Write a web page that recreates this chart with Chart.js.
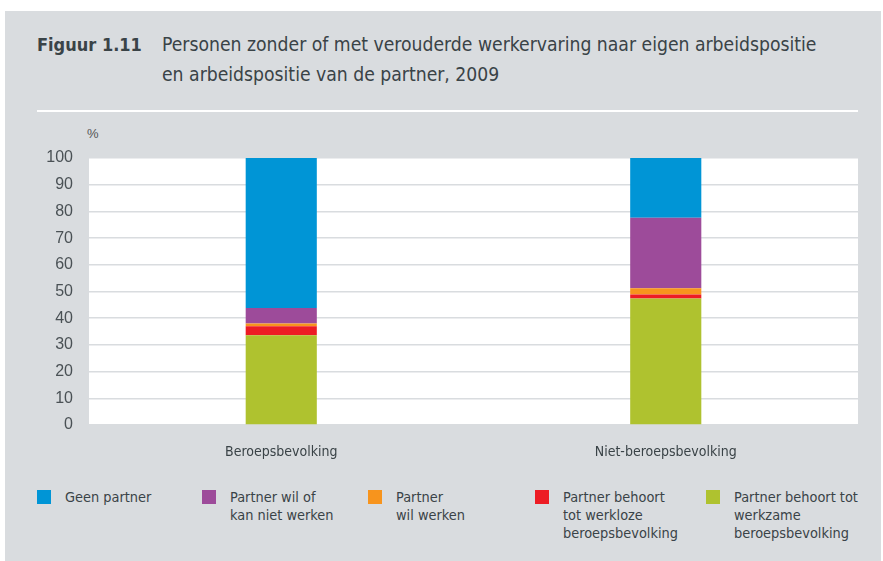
<!DOCTYPE html>
<html>
<head>
<meta charset="utf-8">
<script src="https://cdn.jsdelivr.net/npm/chart.js@4.4.0/dist/chart.umd.min.js"></script>
<style>
  body { margin: 0; background: #fff; }
  #panel { position: absolute; left: 5px; top: 11px; width: 876px; height: 550px; background: #d9dcdf; }
  #wrap { position: absolute; left: 0; top: 0; width: 883px; height: 561px; }
  #title { position: absolute; left: 37px; top: 30px; font-family: "DejaVu Sans Condensed", sans-serif; font-size: 19.2px; color: #3a4347; line-height: 30px; }
  #title b { position: absolute; left: 0; top: 0; white-space: nowrap; font-size: 18px; }
  #title span { position: absolute; left: 125px; top: 0; white-space: nowrap; }
  #rule { position: absolute; left: 37px; top: 110px; width: 821px; height: 2px; background: #fff; }
  #unit { position: absolute; left: 87px; top: 126px; font-family: "Liberation Sans", sans-serif; font-size: 13px; color: #555; }
  #chart { position: absolute; left: 0; top: 0; }
  .lg { position: absolute; top: 490px; font-family: "DejaVu Sans Condensed", sans-serif; font-size: 14.4px; line-height: 18px; color: #3a4347; }
  .lg i { position: absolute; left: 0; top: 0; width: 14px; height: 14px; }
  .lg div { position: absolute; left: 28px; top: -2px; white-space: nowrap; }
</style>
</head>
<body>
<div id="panel"></div>
<div id="wrap">
  <div id="title"><b>Figuur 1.11</b><span>Personen zonder of met verouderde werkervaring naar eigen arbeidspositie<br>en arbeidspositie van de partner, 2009</span></div>
  <div id="rule"></div>
  <div id="unit">%</div>
  <canvas id="chart" width="883" height="470"></canvas>
  <div id="legend"></div>
</div>
<script>
const categories = ['Beroepsbevolking', 'Niet-beroepsbevolking'];
const werkzaam = [33.6, 47.4];
const werkloos = [3.4, 1.5];
const wilWerken = [1.0, 2.3];
const wilNiet = [5.8, 26.4];
const geenPartner = [56.2, 22.4];
const yTicks = [0, 10, 20, 30, 40, 50, 60, 70, 80, 90, 100];

// legenda volgorde links -> rechts
const legendItems = [
  { lines: ['Geen partner'], color: '#0095d6', x: 37 },
  { lines: ['Partner wil of', 'kan niet werken'], color: '#9d4b9a', x: 202 },
  { lines: ['Partner', 'wil werken'], color: '#f7941d', x: 368 },
  { lines: ['Partner behoort', 'tot werkloze', 'beroepsbevolking'], color: '#ed1c24', x: 535 },
  { lines: ['Partner behoort tot', 'werkzame', 'beroepsbevolking'], color: '#afc22f', x: 706 }
];

function ds(label, data, color){
  return { label: label, data: data, backgroundColor: color, borderWidth: 0,
           barPercentage: 0.185, categoryPercentage: 1 };
}

const whiteArea = {
  id: 'whiteArea',
  beforeDraw(chart){
    const a = chart.chartArea, c = chart.ctx;
    c.save();
    c.fillStyle = '#fff';
    c.fillRect(a.left, a.top, a.right - a.left, a.bottom - a.top);
    c.restore();
  }
};

new Chart(document.getElementById('chart'), {
  type: 'bar',
  data: {
    labels: categories,
    datasets: [
      ds('Partner behoort tot werkzame beroepsbevolking', werkzaam, '#afc22f'),
      ds('Partner behoort tot werkloze beroepsbevolking', werkloos, '#ed1c24'),
      ds('Partner wil werken', wilWerken, '#f7941d'),
      ds('Partner wil of kan niet werken', wilNiet, '#9d4b9a'),
      ds('Geen partner', geenPartner, '#0095d6')
    ]
  },
  options: {
    responsive: false,
    animation: false,
    layout: { padding: { top: 158, right: 25, left: 0, bottom: 0 } },
    plugins: { legend: { display: false }, tooltip: { enabled: false } },
    scales: {
      x: {
        stacked: true,
        grid: { display: false, drawTicks: false },
        border: { display: false },
        ticks: { color: '#3a4347', padding: 19, font: { family: 'DejaVu Sans Condensed', size: 14 } },
        afterFit(s){ s.height = 45; }
      },
      y: {
        stacked: true,
        min: 0, max: 100,
        afterBuildTicks(s){ s.ticks = yTicks.map(v => ({ value: v })); },
        grid: { color: '#d9dcdf', lineWidth: 1.5, drawTicks: false },
        border: { display: false },
        ticks: { color: '#4a5155', padding: 16, font: { family: 'Liberation Sans', size: 16 } },
        afterFit(s){ s.width = 89; }
      }
    }
  },
  plugins: [whiteArea]
});

const lg = document.getElementById('legend');
legendItems.forEach(it => {
  const d = document.createElement('div');
  d.className = 'lg';
  d.style.left = it.x + 'px';
  d.innerHTML = '<i style="background:' + it.color + '"></i><div>' + it.lines.join('<br>') + '</div>';
  lg.appendChild(d);
});
</script>
</body>
</html>
